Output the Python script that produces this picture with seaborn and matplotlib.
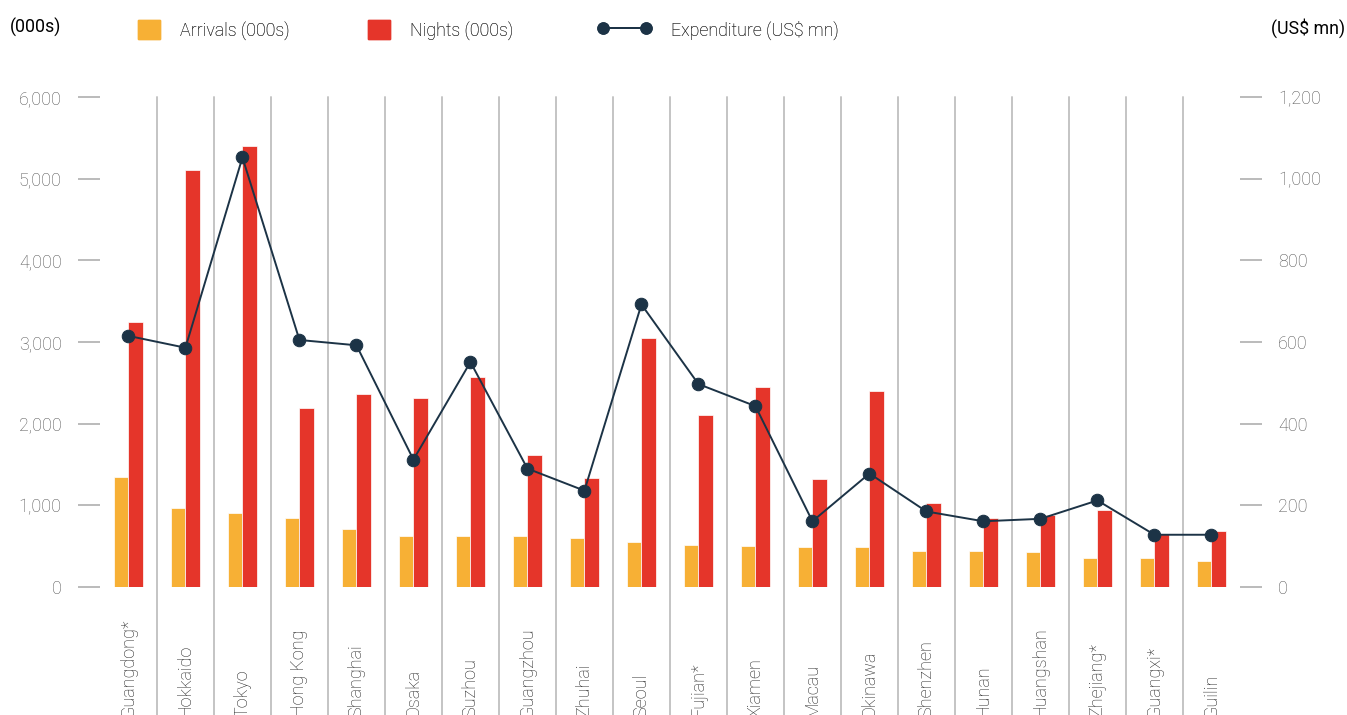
import numpy as np
import pandas as pd
import matplotlib
matplotlib.use("Agg")
import matplotlib.pyplot as plt
import matplotlib.transforms as mtransforms
from matplotlib.patches import Patch
from matplotlib.lines import Line2D
from matplotlib.ticker import StrMethodFormatter
import seaborn as sns

# data
cities = ["Guangdong*", "Hokkaido", "Tokyo", "Hong Kong", "Shanghai", "Osaka",
          "Suzhou", "Guangzhou", "Zhuhai", "Seoul", "Fujian*", "Xiamen", "Macau",
          "Okinawa", "Shenzhen", "Hunan", "Huangshan", "Zhejiang*", "Guangxi*", "Guilin"]
arrivals = [1350, 970, 910, 840, 715, 630, 620, 620, 595, 555, 520, 508, 496,
            484, 447, 447, 423, 350, 350, 313]
nights = [3250, 5110, 5406, 2190, 2360, 2310, 2570, 1620, 1340, 3045, 2105, 2450,
          1325, 2400, 1030, 850, 885, 945, 645, 680]
expenditure = [615, 586, 1052, 605, 592, 312, 551, 290, 236, 692, 497, 443, 161,
               278, 185, 161, 167, 212, 128, 128]

left_ticks = [0, 1000, 2000, 3000, 4000, 5000, 6000]
right_ticks = [0, 200, 400, 600, 800, 1000, 1200]

ORANGE = "#F7B035"
RED = "#E5352A"
NAVY = "#1C3346"
GRID = "#C4C4C4"
TICK = "#A8A8A8"
LABEL = "#555555"

sns.set_style("white")
plt.rcParams["font.family"] = ["Roboto", "DejaVu Sans"]
plt.rcParams["font.weight"] = "light"
FS = 13

bars = pd.DataFrame({
    "city": cities * 2,
    "series": ["Arrivals (000s)"] * len(cities) + ["Nights (000s)"] * len(cities),
    "value": arrivals + nights,
})

fig = plt.figure(figsize=(13.47, 7.15), dpi=100)
ax = fig.add_axes([0.0742, 0.179, 0.8463, 0.6853])

sns.barplot(data=bars, x="city", y="value", hue="series", order=cities,
            palette=[ORANGE, RED], width=0.5, gap=0, edgecolor="white",
            linewidth=0.5, saturation=1, legend=False, ax=ax, zorder=2)

ax.set_xlim(-0.5, len(cities) - 0.5)
ax.set_ylim(0, 6000)
ax.set_yticks(left_ticks)
ax.yaxis.set_major_formatter(StrMethodFormatter("{x:,.0f}"))
ax.set_xlabel("")
ax.set_ylabel("")
ax.set_xticks([])
ax.tick_params(axis="y", length=16, width=1.1, color=TICK, pad=11.5,
               labelsize=FS, labelcolor=LABEL)
for s in ax.spines.values():
    s.set_visible(False)

# separators between the city groups, running down through the label area
for i in range(len(cities) - 1):
    ax.axvline(i + 0.5, ymin=-0.3, ymax=1, color=GRID, lw=1.4,
               clip_on=False, zorder=1)

# rotated city names anchored at the bottom edge of the figure
trans = mtransforms.blended_transform_factory(ax.transData, fig.transFigure)
for i, name in enumerate(cities):
    ax.text(i, -0.003, name, transform=trans, rotation=90, ha="center",
            va="bottom", fontsize=FS, color="#222222")

ax2 = ax.twinx()
sns.lineplot(x=np.arange(len(cities)), y=expenditure, ax=ax2, color=NAVY,
             lw=1.4, marker="o", markersize=9, markeredgecolor=NAVY, zorder=3)
ax2.set_ylim(0, 1200)
ax2.set_yticks(right_ticks)
ax2.yaxis.set_major_formatter(StrMethodFormatter("{x:,.0f}"))
ax2.tick_params(axis="y", length=16, width=1.1, color=TICK, pad=11.5,
                labelsize=FS, labelcolor=LABEL)
for s in ax2.spines.values():
    s.set_visible(False)

fig.text(0.0074, 0.961, "(000s)", ha="left", va="center", fontsize=12.8,
         color="black", fontweight="normal")
fig.text(0.9985, 0.961, "(US$ mn)", ha="right", va="center", fontsize=12.8,
         color="black", fontweight="normal")

legend_items = [
    (Patch(color=ORANGE), "Arrivals (000s)", 0.1024, 1.25),
    (Patch(color=RED), "Nights (000s)", 0.2732, 1.25),
    (Line2D([], [], color=NAVY, lw=1.4, marker="o", markersize=8),
     "Expenditure (US$ mn)", 0.4440, 3.0),
]
for handle, label, xpos, hlen in legend_items:
    leg = fig.legend([handle], [label], loc="center left",
                     bbox_to_anchor=(xpos, 0.958), frameon=False,
                     borderpad=0, borderaxespad=0, handlelength=hlen,
                     handleheight=1.25, handletextpad=1.1, numpoints=2,
                     fontsize=12.8, labelcolor="#333333")
    fig.add_artist(leg)

fig.savefig("out.png", dpi=100)
